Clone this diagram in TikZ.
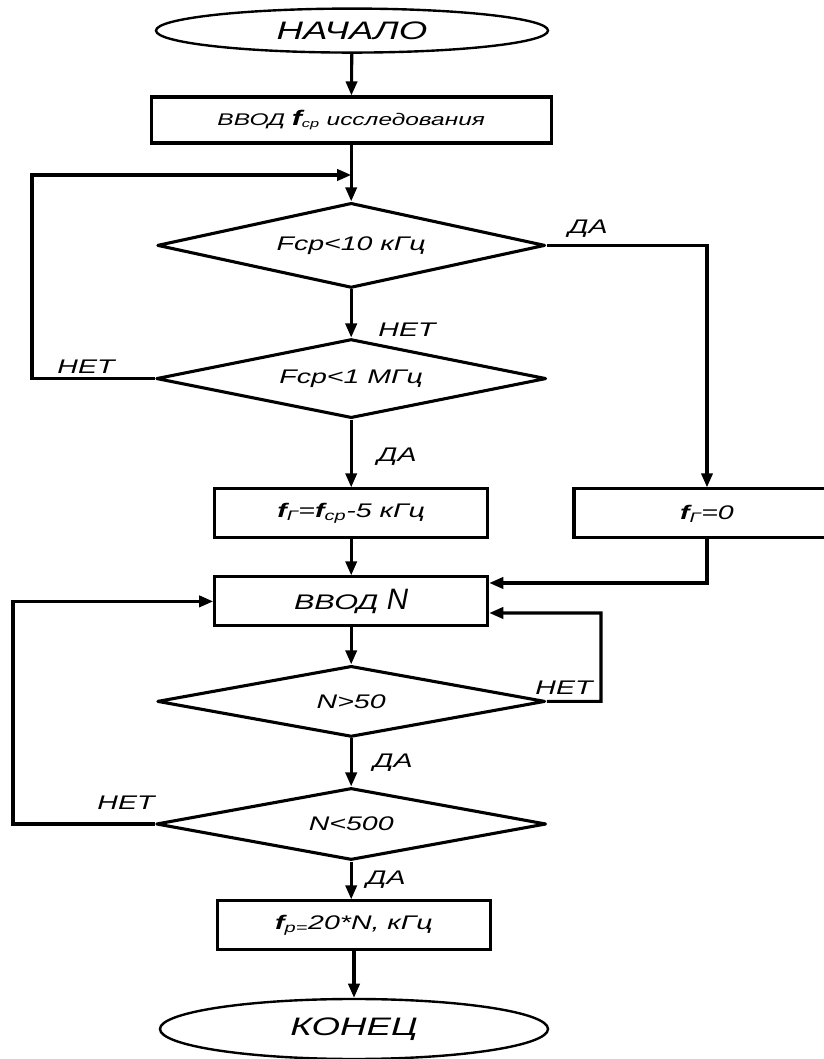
\documentclass[tikz,border=0pt]{standalone}
\usepackage{fontspec}
\setmainfont{Liberation Sans}[FakeStretch=1.45]
\newfontfamily\fontletra{Liberation Sans}
\usetikzlibrary{arrows.meta, shapes.geometric}

\begin{document}
\begin{tikzpicture}[
    every node/.style={font=\fontsize{14pt}{16pt}\selectfont\itshape},
    terminal/.style={
        ellipse,
        draw=black,
        line width=1.7pt,
        inner sep=0pt,
        minimum width=9.8cm,
        minimum height=1.1cm,
        font=\fontsize{18pt}{20pt}\selectfont\itshape
    },
    processo/.style={
        rectangle,
        draw=black,
        line width=2.2pt,
        inner sep=0pt,
        minimum width=6.825cm,
        minimum height=1.225cm
    },
    decisao/.style={
        diamond,
        aspect=6,
        draw=black,
        line width=2.2pt,
        line join=round,
        inner sep=0pt,
        minimum width=9.7cm,
        minimum height=2cm
    },
    seta/.style={
        draw=black,
        line width=2.2pt,
        -{Triangle[length=10pt,width=8pt]}
    },
    rotulo/.style={inner sep=0pt}
]

\useasboundingbox (0,0) rectangle (20.575,26.475);

% ============================================================
% INÍCIO E ENTRADA
% ============================================================

\node[terminal] (inicio) at (8.8,25.71) {НАЧАЛО};

\node[
    processo,
    minimum width=10cm,
    minimum height=1.15cm
] (entrada) at (8.78,23.475)
{\fontsize{12pt}{14pt}\selectfont ВВОД
{\fontsize{15pt}{15pt}\selectfont\textbf{f}}\textsubscript{ср} исследования};

\coordinate (junta) at (8.78,22.1);
\coordinate (cantoA) at (0.8,22.1);

% ============================================================
% CONDIÇÕES DE FREQUÊNCIA
% ============================================================

\node[
    decisao,
    minimum height=2.125cm
] (cond1) at (8.78,20.34)
{Fср<10 кГц};

\node[
    decisao,
    minimum width=9.75cm,
    minimum height=1.975cm
] (cond2) at (8.78,17.01)
{Fср<1 МГц};

\node[processo] (calcfr) at (8.78,13.64)
{\textbf{f}\textsubscript{Г}=\textbf{f}\textsubscript{ср}-5 кГц};

\node[
    processo,
    minimum width=6.65cm
] (zerofr) at (17.675,13.64)
{\textbf{f}\textsubscript{Г}=0};

% ============================================================
% ENTRADA DE N
% ============================================================

\node[processo] (entradaN) at (8.78,11.44)
{\fontsize{15pt}{17pt}\selectfont ВВОД
{\fontletra\fontsize{21pt}{21pt}\selectfont N}};

\coordinate (cantoB) at (0.325,11.44);
\coordinate (cantoC) at (15.025,11.15);

\node[
    decisao,
    minimum height=1.775cm
] (cond3) at (8.78,8.94)
{N>50};

\node[
    decisao,
    minimum width=9.75cm,
    minimum height=1.8cm
] (cond4) at (8.78,5.875)
{N<500};

\node[processo] (calcfp) at (8.85,3.34)
{\textbf{f}\textsubscript{р=}20*N, кГц};

\node[
    terminal,
    minimum width=9.7cm,
    minimum height=1.5cm
] (fim) at (8.85,0.75)
{КОНЕЦ};

% ============================================================
% LIGAÇÕES
% ============================================================

\draw[seta] (inicio) -- (entrada);
\draw[seta] (entrada) -- (cond1);
\draw[seta] (cond1) -- (cond2);
\draw[seta] (cond2) -- (calcfr);
\draw[seta] (calcfr) -- (entradaN);
\draw[seta] (entradaN) -- (cond3);
\draw[seta] (cond3) -- (cond4);
\draw[seta] (cond4.south) -- (cond4.south |- calcfp.north);
\draw[seta] (calcfp.south -| fim.north) -- (fim.north);

% Retornos
\draw[seta] (cond2.west) -| (cantoA) -- (junta);
\draw[seta] (cond1.east) -| (zerofr.north);
\draw[seta] (zerofr.south) |- ([yshift=0.46cm]entradaN.east);
\draw[seta] (cond3.east) -| (cantoC) -- ([yshift=-0.29cm]entradaN.east);
\draw[seta] (cond4.west) -| (cantoB) -- (entradaN.west);

% Rótulos
\node[rotulo] (nao1) at (10.175,18.23) {НЕТ};
\node[rotulo] (sim1) at (14.7,20.75) {ДА};
\node[rotulo] (nao2) at (2.15,17.3) {НЕТ};
\node[rotulo] (sim2) at (9.925,15.05) {ДА};
\node[rotulo] (nao3) at (14.1,9.275) {НЕТ};
\node[rotulo] (sim3) at (9.825,7.4) {ДА};
\node[rotulo] (nao4) at (3.15,6.4) {НЕТ};
\node[rotulo] (sim4) at (9.65,4.475) {ДА};

\end{tikzpicture}
\end{document}
